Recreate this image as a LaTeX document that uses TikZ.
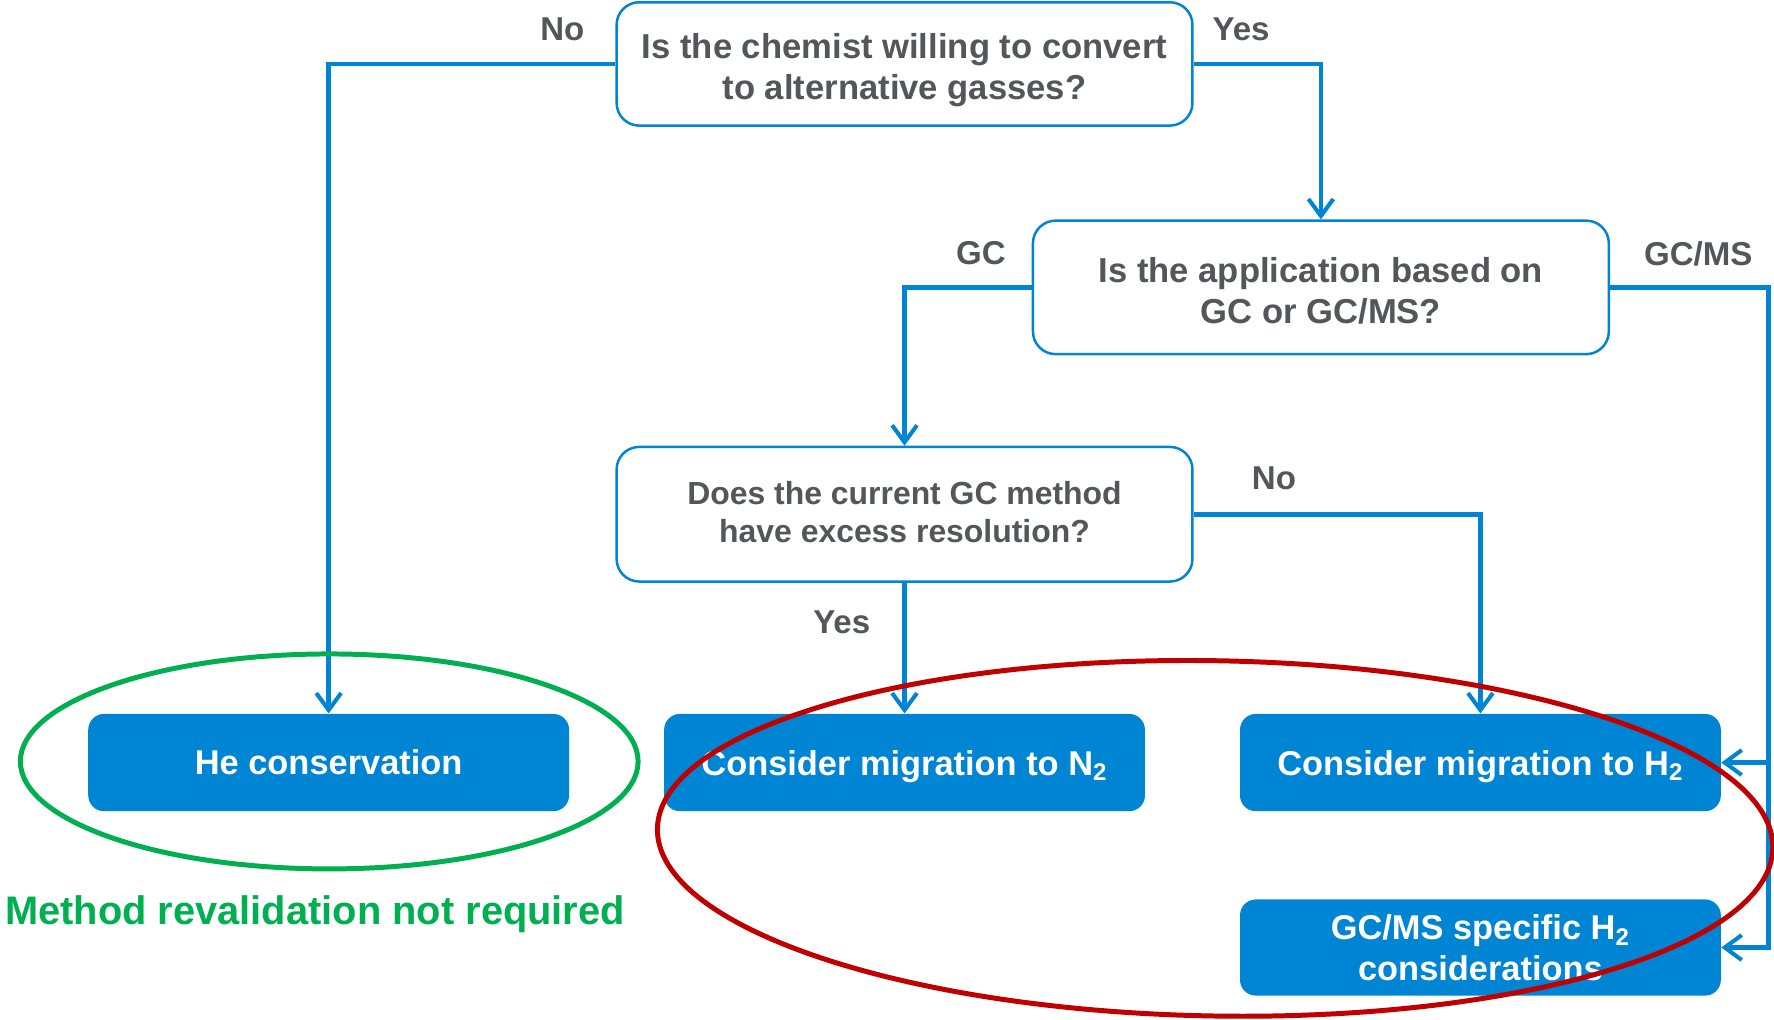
\documentclass[tikz,border=0pt]{standalone}
\usepackage{fontspec}
\setmainfont{Liberation Sans}
\usetikzlibrary{arrows.meta}
\definecolor{flowblue}{RGB}{0,132,212}
\definecolor{txtgray}{RGB}{83,86,90}
\definecolor{okgreen}{RGB}{0,176,80}
\definecolor{warnred}{RGB}{192,0,0}
\tikzset{
  qbox/.style={draw=flowblue, line width=1.1pt, fill=white, rounded corners=10pt,
    minimum width=254.5pt, align=center, text=txtgray, font=\bfseries\fontsize{15.3}{18.5}\selectfont, inner sep=0pt},
  abox/.style={fill=flowblue, rounded corners=7pt, minimum width=212.5pt, minimum height=43pt,
    align=center, text=white, font=\bfseries\fontsize{15.2}{18}\selectfont, inner sep=0pt},
  conn/.style={draw=flowblue, line width=2.1pt, -{Straight Barb[length=7.5pt,width=11pt,line width=1.8pt]}},
  lbl/.style={text=txtgray, font=\bfseries\fontsize{14.6}{17}\selectfont, inner sep=0pt},
}
\begin{document}
\begin{tikzpicture}[x=0.5pt, y=-0.5pt]
\useasboundingbox (0,0) rectangle (1568,901);

% question boxes
\node[qbox, minimum height=54.5pt] (q1) at (799.5,56.5) {\rule{0pt}{16.5pt}Is the chemist willing to convert\\to alternative gasses?};
\node[qbox, minimum height=59pt, font=\bfseries\fontsize{15.3}{18}\selectfont] (q2) at (1167.5,254) {\rule{0pt}{14pt}Is the application based on\\GC or GC/MS?};
\node[qbox, minimum height=59.5pt, font=\bfseries\fontsize{14.1}{16.5}\selectfont] (q3) at (799.5,454.5) {Does the current GC method\\have excess resolution?\rule[-2pt]{0pt}{1pt}};

% answer boxes
\node[abox] (he) at (290.5,674) {He conservation};
\node[abox, text depth=0pt] (n2) at (799.5,674) {Consider migration to N\textsubscript{2}};
\node[abox, text depth=0pt] (h2) at (1308.5,674) {Consider migration to H\textsubscript{2}};
\node[abox, minimum height=42.5pt] (ms) at (1308.5,837.5) {GC/MS specific H\textsubscript{2}\\considerations};

% connectors
\coordinate (bus) at (1563,254);
\coordinate (busH) at (bus |- h2.east);
\draw[conn] (q1.west) -| (he.north);
\draw[conn] (q1.east) -| (q2.north);
\draw[conn] (q2.west) -| (q3.north);
\draw[conn] (q3.south) -- (n2.north);
\draw[conn] (q3.east) -| (h2.north);
\draw[conn] (q2.east) -- (bus) |- (ms.east);
\draw[conn] (busH) -- (h2.east);

% labels
\node[lbl] (lno1) at (497,26) {No};
\node[lbl] (lyes1) at (1097,26) {Yes};
\node[lbl] (lgc) at (867,224) {GC};
\node[lbl] (lgcms) at (1501,224) {GC/MS};
\node[lbl] (lno2) at (1126,423) {No};
\node[lbl] (lyes2) at (744,550) {Yes};

% ellipses
\coordinate (gc) at (291,673);
\draw[okgreen, line width=2.2pt] (gc) ellipse [x radius=136.5pt, y radius=47.5pt];
\coordinate (rc) at (1074,741);
\draw[warnred, line width=2.2pt, rotate around={-1:(rc)}] (rc) ellipse [x radius=246.5pt, y radius=78.5pt];

\node[text=okgreen, font=\bfseries\fontsize{17.6}{20}\selectfont, inner sep=0pt] (note) at (278.5,808) {Method revalidation not required};
\end{tikzpicture}
\end{document}
